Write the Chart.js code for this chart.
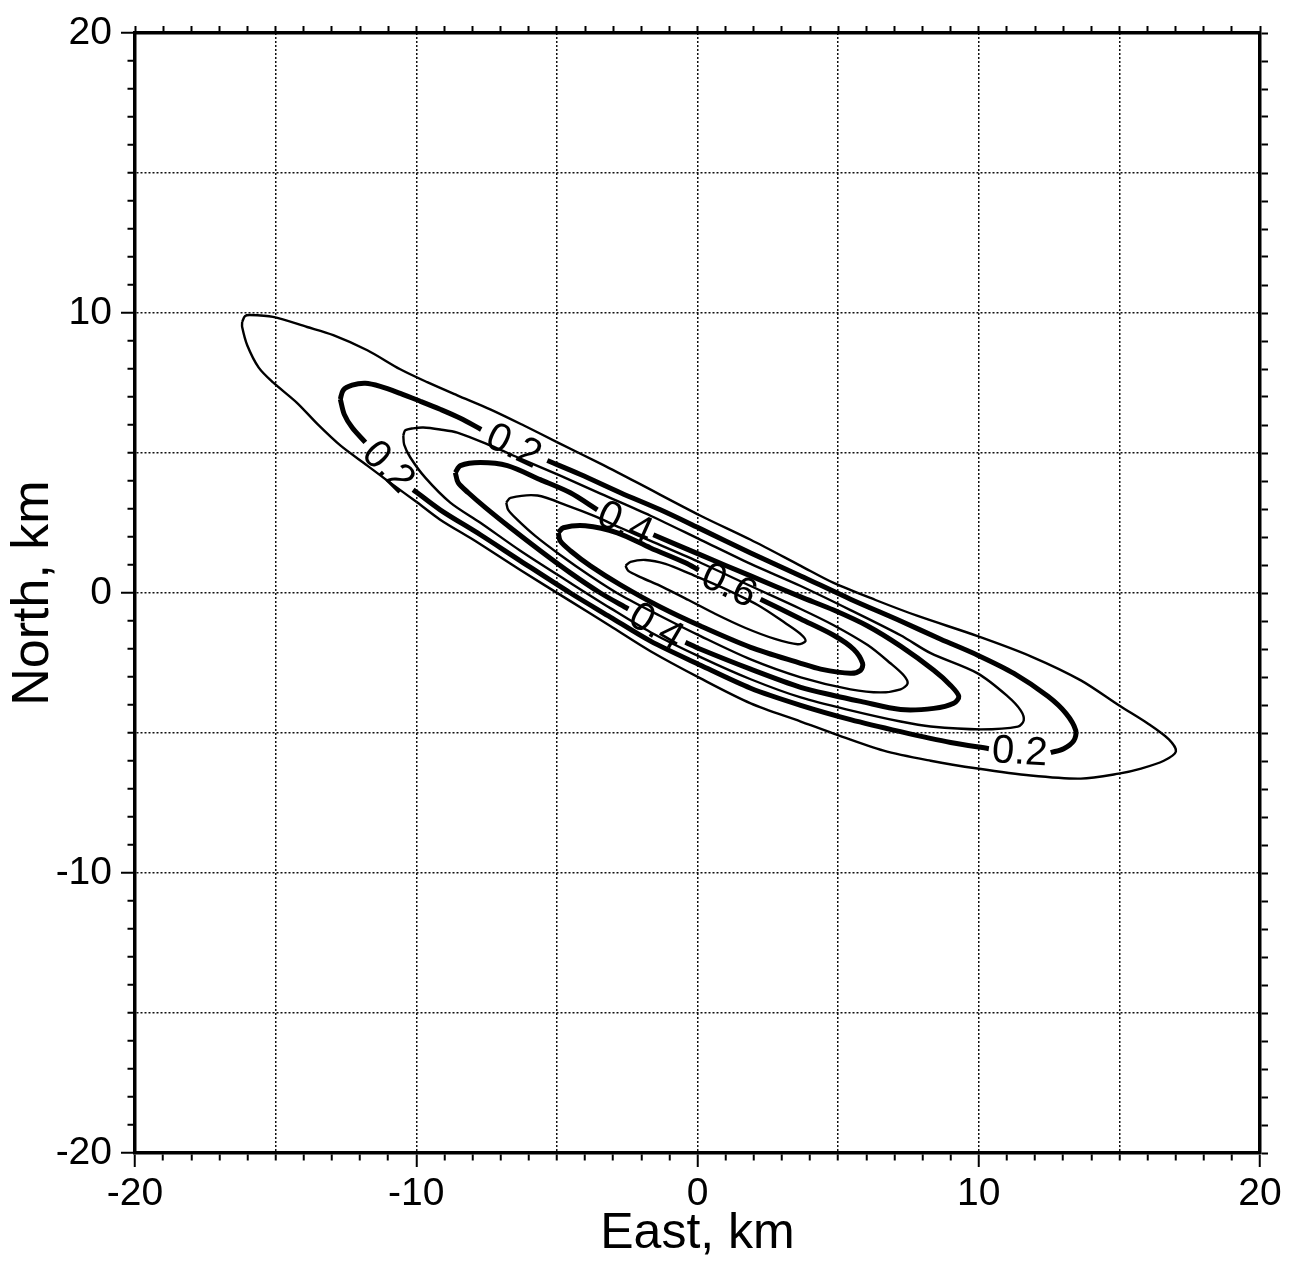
<!DOCTYPE html>
<html lang="en">
<head>
<meta charset="UTF-8">
<title>Contour map</title>
<script src="https://cdn.jsdelivr.net/npm/chart.js@4.4.0/dist/chart.umd.min.js"></script>
<style>
    html, body { margin: 0; padding: 0; background: #fff; }
    #chart-container { width: 1290px; height: 1266px; }
</style>
</head>
<body>
<div id="chart-container"><canvas id="chart" width="1290" height="1266"></canvas></div>
<script>
// contour lines, [East km, North km]; null = gap where the label sits
const levels = ['0.1', '0.2', '0.3', '0.4', '0.5', '0.6', '0.7'];
const thick = [false, true, false, true, false, true, false];

const c01 = [[-16.19,9.68],[-16.09,9.89],[-15.91,9.93],[-15.09,9.86],[-13.88,9.50],[-12.95,9.21],[-11.74,8.67],
    [-10.57,7.99],[-9.61,7.53],[-8.54,7.06],[-7.37,6.56],[-6.19,5.99],[-4.98,5.38],[-3.45,4.62],[-2.14,3.94],
    [0.11,2.76],[1.89,1.90],[3.67,0.97],[4.84,0.36],[6.33,-0.25],[7.83,-0.82],[9.96,-1.54],[11.85,-2.26],
    [13.63,-3.12],[14.98,-4.01],[16.01,-4.66],[16.76,-5.23],[17.01,-5.66],[16.58,-5.99],[15.77,-6.27],
    [14.98,-6.45],[13.63,-6.63],[11.85,-6.52],[9.96,-6.27],[8.29,-5.99],[6.62,-5.63],[4.84,-5.02],[3.67,-4.59],
    [1.89,-3.94],[0.11,-3.05],[-1.67,-2.08],[-3.10,-1.18],[-4.52,-0.29],[-6.30,0.82],[-7.97,1.90],[-9.15,2.62],
    [-9.96,3.23],[-10.93,3.94],[-11.74,4.55],[-12.70,5.27],[-13.50,6.02],[-14.25,6.80],[-15.09,7.52],
    [-15.60,8.05],[-16.01,8.85],[-16.19,9.50],[-16.19,9.68]];

const c02 = [[-12.70,6.92],[-12.60,7.24],[-12.28,7.42],[-11.81,7.49],[-11.28,7.38],[-10.57,7.13],[-9.86,6.85],
    [-9.15,6.56],[-8.43,6.24],[-7.69,5.84],null,[-5.34,4.73],[-4.16,4.23],[-2.74,3.58],[-1.32,2.97],[0.11,2.29],
    [1.89,1.43],[3.67,0.61],[5.44,-0.22],[7.22,-1.00],[8.65,-1.65],[9.96,-2.22],[11.25,-2.87],[12.46,-3.69],
    [13.10,-4.30],[13.45,-4.91],[13.38,-5.27],[13.02,-5.56],[12.56,-5.70],null,[10.36,-5.56],[9.00,-5.34],
    [7.22,-4.95],[5.44,-4.52],[3.67,-4.01],[1.89,-3.40],[0.11,-2.58],[-1.67,-1.72],[-3.10,-0.86],[-4.52,0.00],
    [-6.30,1.15],[-7.72,2.08],[-9.15,2.97],[-10.11,3.69],null,[-11.81,5.38],[-12.28,5.91],[-12.56,6.38],[-12.70,6.92]];

const c03 = [[-10.46,5.63],[-10.39,5.81],[-10.11,5.88],[-9.75,5.91],[-9.15,5.84],[-8.54,5.73],[-7.37,5.27],
    [-6.30,4.80],[-4.88,4.19],[-3.45,3.55],[-1.67,2.76],[0.11,1.90],[1.89,1.04],[3.67,0.25],[5.44,-0.61],
    [7.22,-1.51],[8.29,-2.15],[9.96,-2.87],[11.03,-3.69],[11.49,-4.19],[11.60,-4.55],[11.39,-4.77],[10.07,-4.87],
    [8.29,-4.77],[7.22,-4.59],[5.44,-4.19],[3.67,-3.73],[1.89,-3.08],[0.11,-2.29],[-1.67,-1.40],[-3.10,-0.54],
    [-4.52,0.36],[-6.30,1.51],[-7.72,2.51],[-8.79,3.23],[-9.68,4.12],[-10.21,4.84],[-10.43,5.30],[-10.46,5.63]];

const c04 = [[-8.61,4.30],[-8.43,4.55],[-7.72,4.66],[-6.76,4.55],[-5.59,4.05],[-4.52,3.58],[-3.56,2.97],null,
    [-1.57,2.08],[0.11,1.36],[1.89,0.61],[3.67,-0.14],[4.84,-0.61],[6.05,-1.18],[7.22,-1.90],[8.40,-2.76],
    [9.00,-3.30],[9.29,-3.69],[9.11,-3.94],[8.40,-4.12],[7.22,-4.16],[5.80,-3.87],[4.84,-3.66],[3.67,-3.37],
    [1.89,-2.72],[0.11,-2.01],[-0.43,-1.76],null,[-2.46,-0.57],[-3.45,0.00],[-4.52,0.72],[-5.59,1.51],
    [-6.65,2.33],[-7.54,3.05],[-8.15,3.58],[-8.51,3.94],[-8.61,4.30]];

const c05 = [[-6.80,3.23],[-6.65,3.40],[-5.69,3.48],[-4.63,3.12],[-3.70,2.76],[-2.74,2.33],[-1.67,1.86],
    [0.11,1.08],[1.89,0.25],[3.67,-0.57],[4.84,-1.15],[6.05,-1.86],[6.86,-2.51],[7.33,-2.94],[7.47,-3.23],
    [7.22,-3.44],[6.51,-3.55],[5.44,-3.44],[3.67,-3.01],[1.89,-2.37],[0.11,-1.54],[-1.32,-0.82],[-2.74,-0.07],
    [-3.81,0.61],[-4.88,1.36],[-5.77,2.04],[-6.41,2.62],[-6.73,2.97],[-6.80,3.23]];

const c06 = [[-4.95,2.15],[-4.77,2.33],[-3.99,2.40],[-2.85,2.15],[-1.67,1.61],[-0.43,1.08],[0.04,0.82],null,
    [2.24,-0.22],[3.67,-0.93],[4.84,-1.51],[5.55,-2.01],[5.87,-2.51],[5.80,-2.76],[5.44,-2.87],[4.38,-2.72],
    [3.67,-2.51],[1.89,-1.94],[0.11,-1.18],[-1.32,-0.50],[-2.74,0.29],[-3.81,0.97],[-4.52,1.51],[-4.88,1.86],
    [-4.95,2.15]];

const c07 = [[-2.56,0.97],[-2.38,1.11],[-1.85,1.18],[-1.14,1.04],[-0.25,0.68],[0.82,0.22],[2.14,-0.43],
    [3.13,-1.08],[3.67,-1.47],[3.84,-1.72],[3.56,-1.83],[2.78,-1.65],[1.71,-1.25],[0.64,-0.75],[-0.32,-0.25],
    [-1.25,0.22],[-2.03,0.57],[-2.46,0.79],[-2.56,0.97]];

const contours = [c01, c02, c03, c04, c05, c06, c07];

const axisMin = -20, axisMax = 20;
const tickLabels = [-20, -10, 0, 10, 20];
const gridLines = [-15, -10, -5, 0, 5, 10, 15];

const FONT = "'Liberation Sans', Arial, Helvetica, sans-serif";
Chart.defaults.font.family = FONT;
Chart.defaults.color = '#000';

const datasets = contours.map((c, i) => ({
    label: levels[i],
    data: c.map(p => p ? {x: p[0], y: p[1]} : {x: null, y: null}),
    showLine: true,
    spanGaps: false,
    borderColor: '#000',
    borderWidth: thick[i] ? 5 : 2.4,
    pointRadius: 0,
    tension: 0.3,
    fill: false
}));

// puts the level text in every gap of a contour, turned along the line
const contourLabels = {
    id: 'contourLabels',
    afterDatasetsDraw(chart) {
        const {ctx, scales: {x, y}} = chart;
        ctx.save();
        ctx.font = '40px ' + FONT;
        ctx.fillStyle = '#000';
        ctx.textAlign = 'center';
        ctx.textBaseline = 'middle';
        chart.data.datasets.forEach(ds => {
            const pts = ds.data;
            for (let i = 1; i < pts.length - 1; i++) {
                if (pts[i].x !== null) continue;
                const a = pts[i - 1], b = pts[i + 1];
                const ax = x.getPixelForValue(a.x), ay = y.getPixelForValue(a.y);
                const bx = x.getPixelForValue(b.x), by = y.getPixelForValue(b.y);
                let ang = Math.atan2(by - ay, bx - ax);
                if (ang > Math.PI / 2) ang -= Math.PI;
                if (ang < -Math.PI / 2) ang += Math.PI;
                ctx.save();
                ctx.translate((ax + bx) / 2, (ay + by) / 2);
                ctx.rotate(ang);
                ctx.fillText(ds.label, 0, 2);
                ctx.restore();
            }
        });
        ctx.restore();
    }
};

const isMajor = c => c.tick && tickLabels.includes(c.tick.value);
const gridColor = c => (c.tick && gridLines.includes(c.tick.value)) ? '#111' : 'rgba(0,0,0,0)';

const config = {
    type: 'scatter',
    data: {datasets: datasets},
    options: {
        responsive: false,
        animation: false,
        devicePixelRatio: 1,
        events: [],
        layout: {padding: 0},
        plugins: {legend: {display: false}, tooltip: {enabled: false}},
        scales: {
            x: {
                type: 'linear', position: 'bottom', min: axisMin, max: axisMax,
                ticks: {
                    stepSize: 1, autoSkip: false, maxRotation: 0, padding: 4,
                    font: {size: 39},
                    callback: v => tickLabels.includes(v) ? String(v) : ''
                },
                grid: {
                    color: gridColor, lineWidth: 1.5, tickColor: '#000', tickWidth: 2, tickLength: 14,
                    tickBorderDash: c => isMajor(c) ? [] : [6, 40]
                },
                border: {display: true, color: '#000', width: 3.5, dash: [2, 2]},
                title: {display: true, text: 'East, km', font: {size: 50}, padding: {top: 0, bottom: 2}},
                afterFit: s => { s.height = 113; }
            },
            y: {
                type: 'linear', position: 'left', min: axisMin, max: axisMax,
                ticks: {
                    stepSize: 1, autoSkip: false, padding: 9,
                    font: {size: 39},
                    callback: v => tickLabels.includes(v) ? String(v) : ''
                },
                grid: {
                    color: gridColor, lineWidth: 1.5, tickColor: '#000', tickWidth: 2, tickLength: 14,
                    tickBorderDash: c => isMajor(c) ? [] : [0, 6.5, 6, 40]
                },
                border: {display: true, color: '#000', width: 3.5, dash: [2, 2]},
                title: {display: true, text: 'North, km', font: {size: 52}, padding: {top: 2, bottom: 0}},
                afterFit: s => { s.width = 135; }
            },
            xTop: {
                type: 'linear', position: 'top', min: axisMin, max: axisMax,
                ticks: {stepSize: 1, display: false},
                grid: {drawOnChartArea: false, color: '#000', tickWidth: 2, tickLength: 7},
                border: {display: true, color: '#000', width: 3.5},
                afterFit: s => { s.height = 33; }
            },
            yRight: {
                type: 'linear', position: 'right', min: axisMin, max: axisMax,
                ticks: {stepSize: 1, display: false},
                grid: {drawOnChartArea: false, color: '#000', tickWidth: 2, tickLength: 8},
                border: {display: true, color: '#000', width: 3.5},
                afterFit: s => { s.width = 30; }
            }
        }
    },
    plugins: [contourLabels]
};

const chart = new Chart(document.getElementById('chart'), config);
</script>
</body>
</html>
